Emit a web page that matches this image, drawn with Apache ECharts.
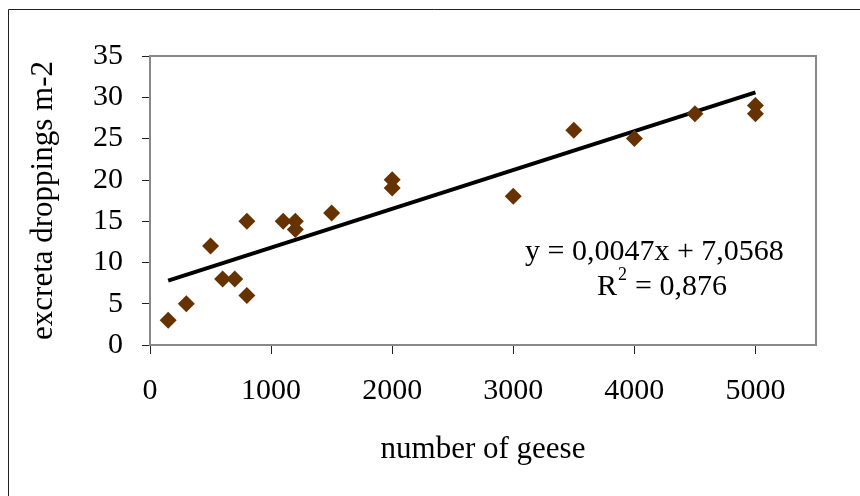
<!DOCTYPE html>
<html lang="en">
  <head>
    <meta charset="UTF-8" />
    <title>Geese droppings</title>
    <script src="https://cdn.jsdelivr.net/npm/echarts@6/dist/echarts.min.js"></script>
    <style>
      body { margin: 0; background: #fff; }
    </style>
  </head>
  <body>
    <div id="main" style="width: 860px; height: 496px"></div>
    <script type="text/javascript">
      // data
      let geese = [150, 300, 500, 600, 700, 800, 800, 1100, 1200, 1200, 1500, 2000, 2000, 3000, 3500, 4000, 4500, 5000, 5000]
      let droppings = [3, 5, 12, 8, 8, 6, 15, 15, 15, 14, 16, 20, 19, 18, 26, 25, 28, 29, 28]
      // trend line ends (linear fit as drawn)
      let trendX = [150, 5000]
      let trendY = [7.8, 30.6]
      let xTicks = [0, 1000, 2000, 3000, 4000, 5000]

      let font = "'Liberation Serif', 'Times New Roman', serif"

      let options = {
        animation: false,
        grid: { left: 150, top: 56, width: 666, height: 289 },
        graphic: [
          {
            type: "rect",
            shape: { x: 8.5, y: 9.5, width: 900, height: 600 },
            style: { fill: "none", stroke: "#222", lineWidth: 1 },
          },
          {
            type: "rect",
            shape: { x: 150, y: 56, width: 666, height: 289 },
            style: { fill: "none", stroke: "#888", lineWidth: 2 },
            z: 1,
          },
          {
            type: "text",
            left: 525,
            top: 237,
            style: { text: "y = 0,0047x + 7,0568", font: "30px " + font, fill: "#000" },
          },
          {
            type: "text",
            left: 597,
            top: 272,
            style: { text: "R", font: "30px " + font, fill: "#000" },
          },
          {
            type: "text",
            left: 618,
            top: 266,
            style: { text: "2", font: "18px " + font, fill: "#000" },
          },
          {
            type: "text",
            left: 635,
            top: 272,
            style: { text: "= 0,876", font: "30px " + font, fill: "#000" },
          },
        ],
        xAxis: {
          type: "value",
          min: 0,
          max: 5500,
          interval: 1000,
          name: "number of geese",
          nameLocation: "middle",
          nameGap: 89,
          nameTextStyle: { fontFamily: font, fontSize: 31, color: "#000" },
          splitLine: { show: false },
          axisLine: { onZero: false, lineStyle: { color: "#222", width: 1.5 } },
          axisTick: { show: true, length: 9, customValues: xTicks, lineStyle: { color: "#222" } },
          axisLabel: {
            customValues: xTicks,
            margin: 31,
            fontFamily: font,
            fontSize: 30,
            color: "#000",
            formatter: (v) => String(v),
          },
        },
        yAxis: {
          type: "value",
          min: 0,
          max: 35,
          interval: 5,
          name: "excreta droppings m-2",
          nameLocation: "middle",
          nameGap: 91,
          nameTextStyle: { fontFamily: font, fontSize: 31, color: "#000" },
          splitLine: { show: false },
          axisLine: { show: true, lineStyle: { color: "#222", width: 1.5 } },
          axisTick: { show: true, length: 8, lineStyle: { color: "#222" } },
          axisLabel: { margin: 27, fontFamily: font, fontSize: 30, color: "#000" },
        },
        series: [
          {
            name: "trend",
            type: "line",
            data: trendX.map((x, i) => [x, trendY[i]]),
            symbol: "none",
            lineStyle: { color: "#000", width: 4 },
            z: 2,
          },
          {
            name: "droppings",
            type: "scatter",
            data: geese.map((x, i) => [x, droppings[i]]),
            symbol: "diamond",
            symbolSize: 17,
            itemStyle: { color: "#663300", opacity: 1 },
            z: 3,
          },
        ],
      };

      let myChart = echarts.init(document.getElementById("main"));
      myChart.setOption(options);
    </script>
  </body>
</html>
